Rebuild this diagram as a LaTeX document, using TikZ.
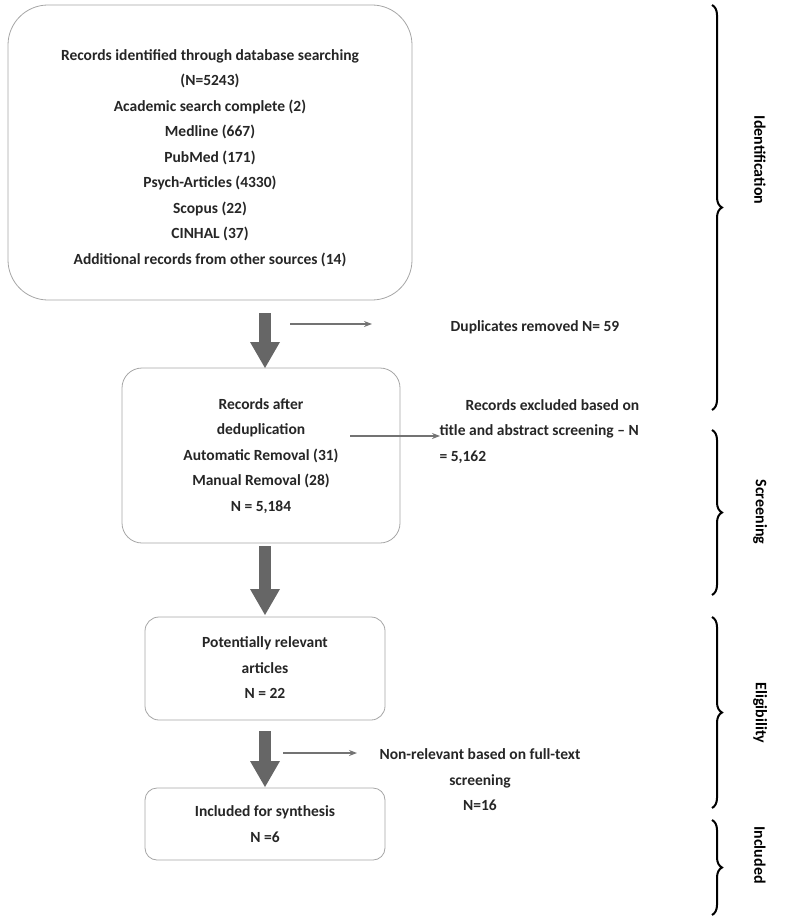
\documentclass[tikz,border=0pt]{standalone}
\usepackage{fontspec}
\setmainfont{Carlito}
\usetikzlibrary{decorations.pathreplacing,arrows.meta}
\begin{document}
\begin{tikzpicture}[x=1pt,y=-1pt,
  txt/.style={font=\fontsize{15.5}{25.5}\selectfont\bfseries,text=black!85,align=center},
  box/.style={draw=black!35,line width=0.8pt,fill=white},
  thin/.style={draw=black!55,line width=1.3pt,-{Stealth[length=8pt,width=6pt]}},
  br/.style={draw=black,line width=2pt,decorate,decoration={brace,amplitude=10pt}},
  lab/.style={font=\fontsize{16}{20}\selectfont\bfseries,rotate=-90}]
\useasboundingbox (0,0) rectangle (787,920);
\draw[box,rounded corners=40] (8,5) rectangle (412,300);
\node[txt] (b1) at (210,158) {Records identified through database searching\\(N=5243)\\Academic search complete (2)\\Medline (667)\\PubMed (171)\\Psych-Articles (4330)\\Scopus (22)\\CINHAL (37)\\Additional records from other sources (14)};
\draw[box,rounded corners=20] (122,368) rectangle (400,543);
\node[txt] (b2) at (261,456) {Records after\\deduplication\\Automatic Removal (31)\\Manual Removal (28)\\N = 5,184};
\draw[box,rounded corners=14] (145,617) rectangle (385,720);
\node[txt] (b3) at (265,668) {Potentially relevant\\articles\\N = 22};
\draw[box,rounded corners=12] (145,788) rectangle (385,860);
\node[txt] (b4) at (265,824) {Included for synthesis\\N =6};
\foreach \a/\b in {313/368,546/615,731/787}{
  \fill[black!60] (259,\a) rectangle (271,\b-25);
  \fill[black!60] (250,\b-26) -- (280,\b-26) -- (265,\b) -- cycle;}
\coordinate (s1) at (290,324); \coordinate (e1) at (372,324);
\coordinate (s2) at (350,436); \coordinate (e2) at (440,436);
\coordinate (s3) at (283,753); \coordinate (e3) at (357,753);
\draw[thin] (s1) -- (e1);
\draw[thin] (s2) -- (e2);
\draw[thin] (s3) -- (e3);
\node[txt] (d) at (535,327) {Duplicates removed N= 59};
\node[txt,align=left,anchor=north west] (x) at (436,396) {\hspace*{26pt}Records excluded based on\\title and abstract screening -- N\\= 5,162};
\node[txt] (n) at (480,780) {Non-relevant based on full-text\\screening\\N=16};
\draw[br] (712,5) -- (712,410);
\draw[br] (712,430) -- (712,595);
\draw[br] (712,617) -- (712,808);
\draw[br] (712,820) -- (712,915);
\node[lab] at (760,160) {Identification};
\node[lab] at (760,512) {Screening};
\node[lab] at (760,713) {Eligibility};
\node[lab] at (760,855) {Included};
\end{tikzpicture}
\end{document}
